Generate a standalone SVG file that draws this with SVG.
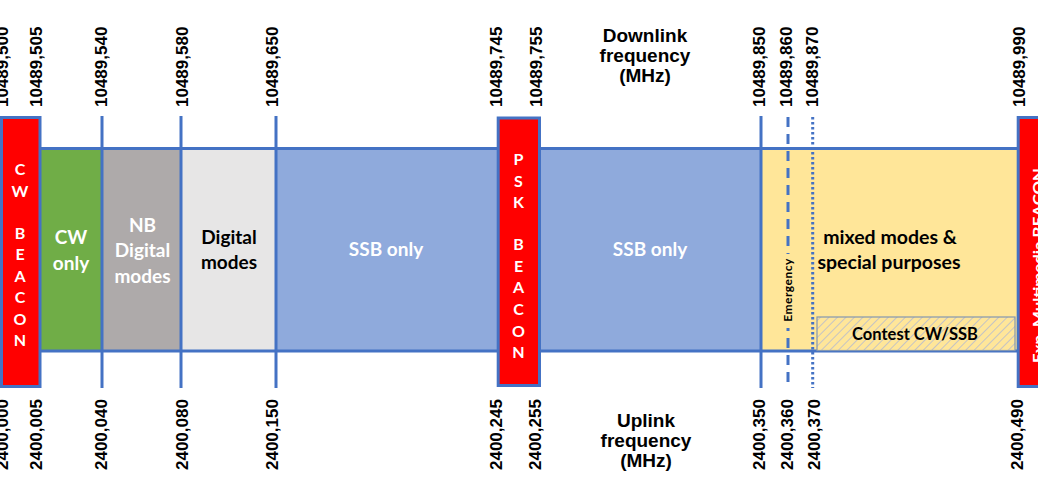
<svg xmlns="http://www.w3.org/2000/svg" width="1038" height="487" viewBox="0 0 1038 487">
<style>
.num{font-family:"Liberation Sans",Arial,sans-serif;font-weight:bold;font-size:17px;fill:#000}
.hdr{font-family:"Liberation Sans",Arial,sans-serif;font-weight:bold;font-size:19px;fill:#000;text-anchor:middle}
.lbl{font-family:Lato,"Noto Sans",sans-serif;font-weight:bold;font-size:19px;text-anchor:middle}
.w{fill:#FFFFFF}
.k{fill:#000000}
.bcn{font-family:Lato,"Noto Sans",sans-serif;font-weight:bold;font-size:16px;fill:#FFFFFF;text-anchor:middle}
.beacon{fill:#FF0000;stroke:#4472C4;stroke-width:3}
.tick{stroke:#4472C4;stroke-width:3;fill:none}
</style>
<defs>
<pattern id="hatch" patternUnits="userSpaceOnUse" width="6" height="6" patternTransform="rotate(45)">
<rect width="6" height="6" fill="#FFE699"/>
<line x1="0" y1="0" x2="0" y2="6" stroke="#C4C3C4" stroke-width="2"/>
</pattern>
</defs>
<rect width="1038" height="487" fill="#FFFFFF"/>

<g id="band-fills">
<rect x="40" y="148.5" width="62" height="202.5" fill="#70AD47"/>
<rect x="102" y="148.5" width="79" height="202.5" fill="#AEAAAA"/>
<rect x="181" y="148.5" width="95" height="202.5" fill="#E7E6E6"/>
<rect x="276" y="148.5" width="222" height="202.5" fill="#8FAADC"/>
<rect x="541" y="148.5" width="220" height="202.5" fill="#8FAADC"/>
<rect x="761" y="148.5" width="257" height="202.5" fill="#FFE699"/>
</g>

<g id="connectors">
<line class="tick" x1="40" y1="148.5" x2="1018" y2="148.5"/>
<line class="tick" x1="40" y1="351" x2="1018" y2="351"/>
<line class="tick" x1="102" y1="116" x2="102" y2="388"/>
<line class="tick" x1="181" y1="116" x2="181" y2="388"/>
<line class="tick" x1="276" y1="116" x2="276" y2="388"/>
<line class="tick" x1="761" y1="116" x2="761" y2="388"/>
<line class="tick" x1="788" y1="117" x2="788" y2="388" stroke-dasharray="10 7"/>
<line class="tick" x1="812.7" y1="117" x2="812.7" y2="388" stroke-dasharray="2.5 2.5"/>
</g>

<g id="contest">
<rect x="817" y="317" width="198" height="33.5" fill="url(#hatch)" stroke="#8497B0" stroke-width="1.2"/>
<text class="lbl k" x="915" y="340" style="font-size:16.5px">Contest CW/SSB</text>
</g>

<g id="emergency">
<rect x="781" y="254" width="14" height="74" fill="#FFE699"/>
<text x="792" y="290" transform="rotate(-90 792 290)" text-anchor="middle" style="font-family:Lato,'Noto Sans',sans-serif;font-weight:bold;font-size:12px;letter-spacing:0.5px;fill:#000">Emergency</text>
</g>

<g id="cw-beacon">
<rect class="beacon" x="1.5" y="117.5" width="38.5" height="269"/>
<text class="bcn" x="20" y="175">C</text>
<text class="bcn" x="20" y="196.7">W</text>
<text class="bcn" x="20" y="238.7">B</text>
<text class="bcn" x="20" y="260">E</text>
<text class="bcn" x="20" y="281.7">A</text>
<text class="bcn" x="20" y="303.3">C</text>
<text class="bcn" x="20" y="325">O</text>
<text class="bcn" x="20" y="346">N</text>
</g>

<g id="cw-only">
<text class="lbl w" x="71" y="244">CW</text>
<text class="lbl w" x="71" y="270">only</text>
</g>

<g id="nb-digital">
<text class="lbl w" x="142.5" y="231.7">NB</text>
<text class="lbl w" x="142.5" y="257">Digital</text>
<text class="lbl w" x="142.5" y="282.7">modes</text>
</g>

<g id="digital">
<text class="lbl k" x="229" y="244">Digital</text>
<text class="lbl k" x="229" y="269">modes</text>
</g>

<g id="ssb1">
<text class="lbl w" x="386" y="256">SSB only</text>
</g>

<g id="psk-beacon">
<rect class="beacon" x="498.2" y="118" width="41.3" height="267.5"/>
<text class="bcn" x="518.5" y="165">P</text>
<text class="bcn" x="518.5" y="186.7">S</text>
<text class="bcn" x="518.5" y="207.5">K</text>
<text class="bcn" x="518.5" y="250">B</text>
<text class="bcn" x="518.5" y="272">E</text>
<text class="bcn" x="518.5" y="293">A</text>
<text class="bcn" x="518.5" y="315">C</text>
<text class="bcn" x="518.5" y="337">O</text>
<text class="bcn" x="518.5" y="358">N</text>
</g>

<g id="ssb2">
<text class="lbl w" x="650" y="256">SSB only</text>
</g>

<g id="mixed">
<text class="lbl k" x="890" y="244" style="font-size:19.5px">mixed modes &amp;</text>
<text class="lbl k" x="889" y="269.3" style="font-size:19.5px">special purposes</text>
</g>

<g id="exp-beacon">
<rect class="beacon" x="1018.2" y="117.5" width="30" height="269"/>
<text x="1043.8" y="363" transform="rotate(-90 1043.8 363)" textLength="195" lengthAdjust="spacingAndGlyphs" style="font-family:Lato,'Noto Sans',sans-serif;font-weight:bold;font-size:16px;fill:#FFFFFF">Exp. Multimedia BEACON</text>
</g>

<g id="downlink-labels">
<text class="num" transform="translate(8,107) rotate(-90)">10489,500</text>
<text class="num" transform="translate(41.5,107) rotate(-90)">10489,505</text>
<text class="num" transform="translate(107,107) rotate(-90)">10489,540</text>
<text class="num" transform="translate(187.7,107) rotate(-90)">10489,580</text>
<text class="num" transform="translate(278,107) rotate(-90)">10489,650</text>
<text class="num" transform="translate(501.7,107) rotate(-90)">10489,745</text>
<text class="num" transform="translate(541.7,107) rotate(-90)">10489,755</text>
<text class="num" transform="translate(765,107) rotate(-90)">10489,850</text>
<text class="num" transform="translate(791.7,107) rotate(-90)">10489,860</text>
<text class="num" transform="translate(818,107) rotate(-90)">10489,870</text>
<text class="num" transform="translate(1025,107) rotate(-90)">10489,990</text>
<text class="hdr" x="645" y="41.6">Downlink</text>
<text class="hdr" x="645" y="62">frequency</text>
<text class="hdr" x="645" y="82">(MHz)</text>
</g>

<g id="uplink-labels">
<text class="num" transform="translate(7.5,470) rotate(-90)">2400,000</text>
<text class="num" transform="translate(41.7,470) rotate(-90)">2400,005</text>
<text class="num" transform="translate(107,470) rotate(-90)">2400,040</text>
<text class="num" transform="translate(187.7,470) rotate(-90)">2400,080</text>
<text class="num" transform="translate(278,470) rotate(-90)">2400,150</text>
<text class="num" transform="translate(501.7,470) rotate(-90)">2400,245</text>
<text class="num" transform="translate(541,470) rotate(-90)">2400,255</text>
<text class="num" transform="translate(765,470) rotate(-90)">2400,350</text>
<text class="num" transform="translate(793,470) rotate(-90)">2400,360</text>
<text class="num" transform="translate(820,470) rotate(-90)">2400,370</text>
<text class="num" transform="translate(1023,470) rotate(-90)">2400,490</text>
<text class="hdr" x="646" y="426.6">Uplink</text>
<text class="hdr" x="646" y="447">frequency</text>
<text class="hdr" x="646" y="467">(MHz)</text>
</g>
</svg>
